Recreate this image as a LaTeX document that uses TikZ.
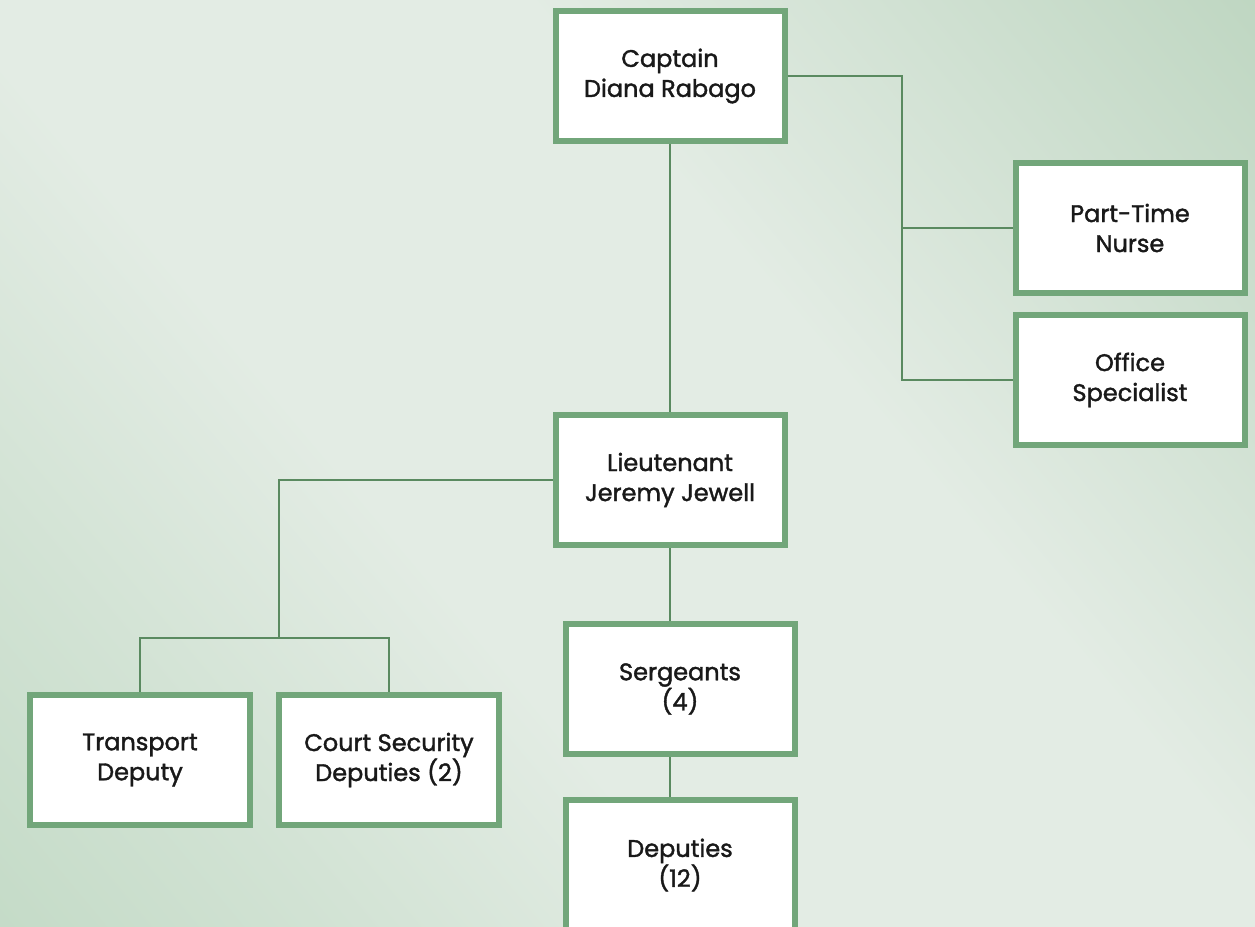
\documentclass[tikz,border=0pt]{standalone}
\usepackage{fontspec}
\setmainfont{Poppins}[FakeBold=1.6]
\usetikzlibrary{positioning}
\definecolor{boxgreen}{HTML}{72A67A}
\definecolor{linkgreen}{HTML}{5A8A60}
\definecolor{bgtr}{HTML}{AACAAE}
\definecolor{bgbl}{HTML}{B4D2B8}
\definecolor{bglight}{HTML}{E3ECE4}
\pgfdeclarehorizontalshading{bgband}{100bp}{color(0bp)=(bgbl); color(27bp)=(bgbl!35!bglight); color(40bp)=(bglight); color(60bp)=(bglight); color(74bp)=(bgtr!35!bglight); color(100bp)=(bgtr)}
\tikzset{post/.style = {draw=boxgreen, line width=6pt, fill=white,
                        minimum width=229pt, minimum height=130pt,
                        align=center, text=black!90,
                        font=\fontsize{24}{30}\selectfont},
         link/.style = {draw=linkgreen, line width=1.6pt}}

\begin{document}
\begin{tikzpicture}[x=1pt, y=-1pt]
      \shade [shading=bgband, shading angle=40] (0, 0) rectangle (1255, 926);
      \useasboundingbox (0, 0) rectangle (1255, 926);

      \node [post] (cap) at (670, 76) {Captain\\Diana Rabago};
      \node [post] (nurse) at (1130, 228) {Part-Time\\Nurse};
      \node [post] (office) at (1130, 380) {Office\\Specialist};
      \node [post] (lieut) at (670, 480) {Lieutenant\\Jeremy Jewell};
      \node [post] (serg) at (680, 689) {Sergeants\\(4)};
      \node [post] (deps) at (680, 865) {Deputies\\(12)};
      \node [post, minimum width=220pt] (trans) at (140, 760) {Transport\\Deputy};
      \node [post, minimum width=220pt] (court) at (389, 760) {Court Security\\Deputies (2)};

      \coordinate (rbus) at (902, 380);
      \coordinate (lbus) at (279, 638);

      \draw [link] (cap.south) -- (lieut.north);
      \draw [link] (cap.east) -| (rbus) -- (office.west);
      \draw [link] (rbus |- nurse.west) -- (nurse.west);

      \draw [link] (lieut.west) -| (lbus);
      \draw [link] (trans.north) |- (lbus) -| (court.north);

      \draw [link] (lieut.south) -- (lieut.south |- serg.north);
      \draw [link] (serg.south -| lieut.south) -- (deps.north -| lieut.south);
    \end{tikzpicture}
\end{document}
